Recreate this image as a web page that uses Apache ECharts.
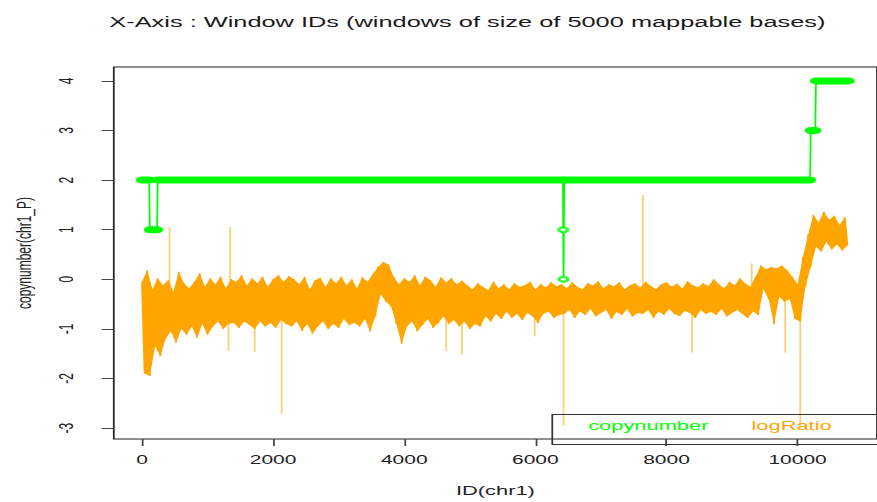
<!DOCTYPE html>
<html>
<head>
<meta charset="utf-8">
<script src="https://cdn.jsdelivr.net/npm/echarts@6/dist/echarts.min.js"></script>
<style>
  html, body { margin: 0; padding: 0; background: #fff; overflow: hidden; }
  #wrap { width: 877px; height: 502px; overflow: hidden; }
  /* the reference is an R plot stretched sideways; draw narrow and stretch */
  #chart { width: 501px; height: 502px; transform: scaleX(1.7505); transform-origin: 0 0; }
</style>
</head>
<body>
<div id="wrap"><div id="chart"></div></div>
<script>
// ── Data ──────────────────────────────────────────────────────────────────────
const xTicks = [0, 2000, 4000, 6000, 8000, 10000];
const yTicks = [-3, -2, -1, 0, 1, 2, 3, 4];

// copy number change points (window id, copy number)
const cnIds    = [0, 110, 120, 230, 240, 6420, 6425, 6430, 6440, 10190, 10200, 10270, 10280, 10780];
const cnValues = [2, 2,   1,   1,   2,   2,    1,    0,    2,    2,     3,     3,     4,     4];

// logRatio noise envelope, one bin per 80 windows (upper and lower excursion)
const ratioBin = 80;
const ratioHigh = [
  -0.05, 0.18, -0.2, 0.02, -0.12, -0.02, -0.25, 0.15, -0.08, -0.18,
  -0.05, 0.12, -0.15, 0.02, -0.1, 0.05, -0.18, 0.0, -0.05, 0.08,
  -0.12, 0.02, -0.08, 0.05, -0.15, 0.0, 0.08, -0.05, 0.06, 0.0,
  -0.1, 0.05, -0.2, -0.02, 0.03, -0.15, 0.02, -0.08, 0.05, -0.12,
  0.0, -0.18, 0.04, -0.05, 0.1,
  0.25, 0.35, 0.3, 0.05,
  -0.1, 0.02, -0.05, 0.08, -0.12, 0.05, -0.02, -0.15, 0.04, -0.06, 0.02, -0.1, -0.03,
  -0.12, -0.2, -0.08, -0.15, -0.22, -0.05, -0.18, -0.1, -0.2, -0.08, -0.15, -0.12, -0.05, -0.2, -0.1, -0.16, -0.06, -0.14,
  -0.1, -0.18, -0.06, -0.15, -0.2, -0.08, -0.12, -0.04, -0.18, -0.1,
  -0.14, -0.06, -0.2, -0.12, -0.08, -0.16, -0.05, -0.13, -0.2, -0.1,
  -0.06, -0.15, -0.09, -0.18, -0.04, -0.12, -0.16, -0.08, -0.14, 0.0,
  -0.1, -0.18, -0.05, -0.12, 0.02, -0.08, -0.15, 0.05,
  0.28, 0.2, 0.25,
  0.22, 0.28, 0.18,
  0.05, -0.1,
  0.45, 0.9,
  1.3, 1.15, 1.36, 1.2, 1.28, 1.1, 1.25
];
const ratioLow = [
  -1.9, -1.95, -1.35, -1.55, -1.2, -1.05, -1.28, -1.0, -1.12, -0.95,
  -1.18, -0.9, -1.12, -0.95, -0.85, -1.0, -0.9, -0.88, -0.98, -0.85,
  -0.92, -1.0, -0.85, -0.95, -0.88, -0.98, -0.82, -0.9, -0.95, -0.85,
  -1.04, -0.9, -1.1, -0.95, -0.85, -1.0, -0.9, -0.98, -0.8, -0.92,
  -0.88, -0.95, -0.8, -1.05, -0.75,
  -0.3, -0.45, -0.55, -0.9,
  -1.3, -0.95, -0.85, -1.05, -0.92, -0.8, -0.98, -0.88, -0.75, -0.9, -0.82, -0.95, -0.85,
  -1.0, -0.9, -0.95, -0.75, -0.85, -0.7, -0.8, -0.65, -0.78, -0.7, -0.82, -0.68, -0.75, -0.88, -0.7, -0.65, -0.78, -0.72,
  -0.7, -0.62, -0.78, -0.65, -0.72, -0.6, -0.75, -0.68, -0.62, -0.8,
  -0.66, -0.72, -0.6, -0.75, -0.68, -0.7, -0.62, -0.78, -0.65, -0.72,
  -0.6, -0.7, -0.74, -0.64, -0.68, -0.78, -0.62, -0.7, -0.66, -0.72,
  -0.6, -0.75, -0.68, -0.62, -0.7, -0.78, -0.65, -0.72,
  -0.2, -0.4, -0.9,
  -0.35, -0.45, -0.4,
  -0.8, -0.85,
  -0.15, 0.25,
  0.65, 0.56, 0.75, 0.6, 0.7, 0.58, 0.68
];

// isolated logRatio outliers
const spikeIds    = [420, 1345, 1320, 1720, 2130, 4640, 4880, 5990, 6430, 7640, 8390, 9300, 9810, 10040];
const spikeValues = [1.05, 1.05, -1.44, -1.46, -2.72, -1.45, -1.52, -1.15, -2.95, 1.7, -1.48, 0.32, -1.48, -3.0];

// ── Derived series data ───────────────────────────────────────────────────────
const GREEN  = '#00ff00';
const ORANGE = '#ffa500';
const FONT   = '"Liberation Sans", Arial, sans-serif';

const ratioLine = [];
ratioHigh.forEach((h, i) => {
  ratioLine.push([i * ratioBin, h]);
  ratioLine.push([i * ratioBin + ratioBin / 2, ratioLow[i]]);
});

const spikes = spikeIds.map((id, i) => {
  const b = Math.min(Math.floor(id / ratioBin), ratioHigh.length - 1);
  return [id, (ratioHigh[b] + ratioLow[b]) / 2, spikeValues[i]];
});

const cnLine = cnIds.map((id, i) => [id, cnValues[i]]);
const cnRuns = [];
const cnSingles = [];
cnIds.forEach((id, i) => {
  const v = cnValues[i];
  if (i < cnIds.length - 1 && cnValues[i + 1] === v) cnRuns.push([id, cnIds[i + 1], v]);
  const prevSame = i > 0 && cnValues[i - 1] === v;
  const nextSame = i < cnIds.length - 1 && cnValues[i + 1] === v;
  if (!prevSame && !nextSame) cnSingles.push([id, v]);
});

// ── Chart ─────────────────────────────────────────────────────────────────────
const chart = echarts.init(document.getElementById('chart'), null, { renderer: 'svg' });

chart.setOption({
  animation: false,
  backgroundColor: '#fff',
  title: {
    text: 'X-Axis : Window IDs (windows of size of 5000 mappable bases)',
    left: 262,
    top: 9,
    textAlign: 'center',
    textStyle: { fontFamily: FONT, fontSize: 14.5, fontWeight: 'normal', color: '#1a1a1a' },
  },
  legend: {
    left: 331,
    top: 419,
    padding: 0,
    itemWidth: 0,
    itemHeight: 0,
    itemGap: 19.5,
    icon: 'rect',
    selectedMode: false,
    textStyle: { fontFamily: FONT, fontSize: 12.5 },
    data: [
      { name: 'copynumber', textStyle: { color: GREEN } },
      { name: 'logRatio', textStyle: { color: ORANGE } },
    ],
  },
  // legend frame, running off the right edge as in the reference
  graphic: [{
    type: 'rect',
    left: 313,
    top: 412,
    shape: { width: 260, height: 30 },
    style: { fill: 'none', stroke: '#333', lineWidth: 1 },
    z: 10,
  }],
  grid: {
    left: 63.7,
    top: 67,
    width: 440.5,
    height: 375,
    show: true,
    borderColor: '#222',
    borderWidth: 1,
  },
  xAxis: {
    type: 'value',
    min: -430,
    max: 11211,
    axisLine: { show: false, onZero: false },
    splitLine: { show: false },
    axisTick: { show: true, customValues: xTicks, length: 7, lineStyle: { color: '#444' } },
    axisLabel: {
      customValues: xTicks, margin: 15, fontSize: 12, color: '#222', fontFamily: FONT,
      formatter: v => String(v),
    },
    name: 'ID(chr1)',
    nameLocation: 'middle',
    nameGap: 45,
    nameTextStyle: { fontFamily: FONT, fontSize: 12.5, color: '#222' },
  },
  yAxis: {
    type: 'value',
    min: -3.22,
    max: 4.28,
    axisLine: { show: false, onZero: false },
    splitLine: { show: false },
    axisTick: { show: true, customValues: yTicks, length: 7, lineStyle: { color: '#444' } },
    axisLabel: {
      customValues: yTicks, rotate: 90, margin: 21, fontSize: 12, color: '#222', fontFamily: FONT,
      formatter: v => String(v),
    },
    name: 'copynumber(chr1_P)',
    nameLocation: 'middle',
    nameGap: 45,
    nameTextStyle: { fontFamily: FONT, fontSize: 12, color: '#222' },
  },
  series: [
    {
      // solid body of the noisy band
      name: 'logRatio',
      type: 'custom',
      data: ratioLine,
      encode: { x: 0, y: 1 },
      renderItem: (params, api) => {
        if (params.dataIndex !== 0) return null;
        const top = ratioHigh.map((h, i) => api.coord([i * ratioBin, h]));
        const bottom = ratioLow.map((l, i) => api.coord([i * ratioBin + ratioBin / 2, l])).reverse();
        return {
          type: 'polygon',
          shape: { points: top.concat(bottom) },
          style: { fill: ORANGE, stroke: 'none' },
        };
      },
      z: 1,
    },
    {
      name: 'logRatio',
      type: 'line',
      data: ratioLine,
      symbol: 'none',
      sampling: null,
      lineStyle: { color: ORANGE, width: 1, join: 'bevel' },
      z: 2,
    },
    {
      name: 'logRatio',
      type: 'custom',
      data: spikes,
      encode: { x: 0, y: [1, 2] },
      renderItem: (params, api) => {
        const a = api.coord([api.value(0), api.value(1)]);
        const b = api.coord([api.value(0), api.value(2)]);
        return {
          type: 'line',
          shape: { x1: a[0], y1: a[1], x2: b[0], y2: b[1] },
          style: { stroke: 'rgba(255,165,0,0.55)', lineWidth: 1 },
        };
      },
      z: 2,
    },
    {
      name: 'copynumber',
      type: 'line',
      data: cnLine,
      symbol: 'none',
      lineStyle: { color: GREEN, width: 1 },
      z: 3,
    },
    {
      name: 'copynumber',
      type: 'custom',
      data: cnRuns,
      encode: { x: [0, 1], y: 2 },
      renderItem: (params, api) => {
        const a = api.coord([api.value(0), api.value(2)]);
        const b = api.coord([api.value(1), api.value(2)]);
        return {
          type: 'line',
          shape: { x1: a[0], y1: a[1], x2: b[0], y2: b[1] },
          style: { stroke: GREEN, lineWidth: 7, lineCap: 'round' },
        };
      },
      z: 4,
    },
    {
      name: 'copynumber',
      type: 'scatter',
      data: cnSingles,
      symbol: 'emptyCircle',
      symbolSize: 5,
      itemStyle: { color: GREEN, borderColor: GREEN, borderWidth: 1.2 },
      z: 4,
    },
  ],
});
</script>
</body>
</html>
